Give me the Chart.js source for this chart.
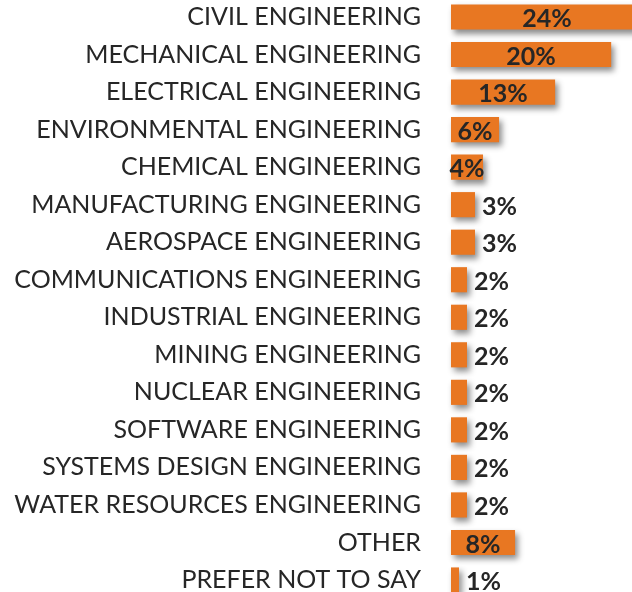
<!DOCTYPE html>
<html>
<head>
<meta charset="utf-8">
<script src="https://cdn.jsdelivr.net/npm/chart.js@4.4.1/dist/chart.umd.min.js"></script>
<style>
  html, body { margin: 0; padding: 0; background: #fff; }
  #wrap { width: 632px; height: 592px; position: relative; }
</style>
</head>
<body>
<div id="wrap"><canvas id="myChart"></canvas></div>
<script>
const categories = [
    'CIVIL ENGINEERING',
    'MECHANICAL ENGINEERING',
    'ELECTRICAL ENGINEERING',
    'ENVIRONMENTAL ENGINEERING',
    'CHEMICAL ENGINEERING',
    'MANUFACTURING ENGINEERING',
    'AEROSPACE ENGINEERING',
    'COMMUNICATIONS ENGINEERING',
    'INDUSTRIAL ENGINEERING',
    'MINING ENGINEERING',
    'NUCLEAR ENGINEERING',
    'SOFTWARE ENGINEERING',
    'SYSTEMS DESIGN ENGINEERING',
    'WATER RESOURCES ENGINEERING',
    'OTHER',
    'PREFER NOT TO SAY'
];
const percents = [24, 20, 13, 6, 4, 3, 3, 2, 2, 2, 2, 2, 2, 2, 8, 1];

const barColor = '#E87722';
const textColor = '#262626';

// drop shadow under the bars
const barShadow = {
    id: 'barShadow',
    beforeDatasetsDraw(chart) {
        const { ctx } = chart;
        ctx.save();
        ctx.shadowColor = 'rgba(0,0,0,0.45)';
        ctx.shadowBlur = 6;
        ctx.shadowOffsetX = 3;
        ctx.shadowOffsetY = 4;
    },
    afterDatasetsDraw(chart) {
        chart.ctx.restore();
    }
};

// percent labels: centred in the bigger bars, outside the small ones
const valueLabels = {
    id: 'valueLabels',
    afterDatasetsDraw(chart) {
        const { ctx } = chart;
        const meta = chart.getDatasetMeta(0);
        ctx.save();
        ctx.font = 'bold 25px Lato';
        ctx.fillStyle = textColor;
        ctx.textBaseline = 'middle';
        meta.data.forEach((bar, i) => {
            const v = percents[i];
            const y = bar.y + 2;
            if (v >= 4) {
                ctx.textAlign = 'center';
                ctx.fillText(v + '%', (bar.base + bar.x) / 2, y);
            } else {
                ctx.textAlign = 'left';
                ctx.fillText(v + '%', bar.x + 7, y);
            }
        });
        ctx.restore();
    }
};

new Chart(document.getElementById('myChart'), {
    type: 'bar',
    data: {
        labels: categories,
        datasets: [{
            data: percents,
            backgroundColor: barColor,
            borderWidth: 0,
            barPercentage: 0.67,
            categoryPercentage: 1,
            clip: { left: false, top: false, right: 0, bottom: false }
        }]
    },
    options: {
        indexAxis: 'y',
        responsive: true,
        maintainAspectRatio: false,
        animation: false,
        layout: { padding: { top: 17, bottom: 12, left: 0, right: 0 } },
        scales: {
            x: {
                display: false,
                min: 0,
                max: 22.6
            },
            y: {
                offset: false,
                grid: { display: false, drawTicks: false },
                border: { display: false },
                ticks: {
                    padding: 30,
                    color: textColor,
                    font: { family: 'Lato', size: 25 }
                },
                afterFit(scale) {
                    scale.width = 451;
                    scale.paddingTop = 0;
                    scale.paddingBottom = 0;
                }
            }
        },
        plugins: {
            legend: { display: false },
            tooltip: { enabled: false }
        }
    },
    plugins: [barShadow, valueLabels]
});
</script>
</body>
</html>
